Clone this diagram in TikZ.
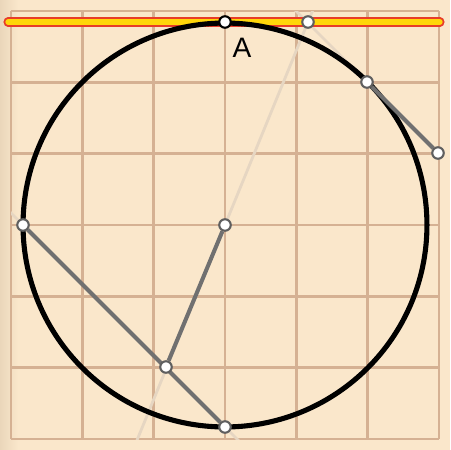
\documentclass[tikz,border=0pt]{standalone}
\usepackage{fontspec}
\setmainfont{Liberation Sans}
\usepackage{tikz}
\usetikzlibrary{calc, positioning}
\usepackage{xcolor}
\definecolor{paper}{RGB}{250,231,203}
\definecolor{paperdark}{RGB}{234,214,186}
\definecolor{gridtan}{RGB}{213,177,147}
\definecolor{faintline}{RGB}{230,214,194}
\definecolor{seggray}{RGB}{112,112,112}
\definecolor{ptgray}{RGB}{95,95,95}
\definecolor{tanyellow}{RGB}{255,214,10}
\definecolor{tanred}{RGB}{232,60,40}
\pgfdeclarelayer{paperlayer}
\pgfdeclarelayer{linelayer}
\pgfsetlayers{paperlayer,linelayer,main}

\begin{document}
\begin{tikzpicture}[
    x=0.02cm, y=-0.02cm,
    pt/.style={circle, draw=ptgray, line width=1.2pt, fill=white,
               minimum size=0.23cm, inner sep=0pt},
    ptA/.style={pt, draw=black},
    seg/.style={seggray, line width=2.3pt},
    faint/.style={faintline, line width=1.6pt},
    circ/.style={black, line width=2.9pt},
    lbl/.style={font=\fontsize{16}{18}\selectfont, inner sep=0pt},
]
    \useasboundingbox (0,0) rectangle (450,450);

    % points
    \node[ptA] (A) at (225,22) {};
    \node[pt] (B) at (308,22) {};
    \node[pt] (C) at (367,82) {};
    \node[pt] (D) at (438,153) {};
    \node[pt] (O) at (225,225) {};
    \node[pt] (E) at (23,225) {};
    \node[pt] (F) at (225,427) {};
    \node[pt] (G) at (166,367) {};
    \node[lbl] (labA) at ($(A)+(17,26)$) {A};

    \coordinate (tanL) at (8,22);
    \coordinate (tanR) at (440,22);

    \begin{pgfonlayer}{paperlayer}
        \fill[paper] (0,0) rectangle (450,450);
        \shade[left color=paperdark, right color=paper] (0,0) rectangle (18,450);
        \foreach \k in {0,...,6} {
            \draw[gridtan, line width=1.6pt] (11+71.333*\k,11) -- (11+71.333*\k,439);
            \draw[gridtan, line width=1.6pt] (11,11+71.333*\k) -- (439,11+71.333*\k);
        }
    \end{pgfonlayer}

    \begin{pgfonlayer}{linelayer}
        \begin{scope}
            \clip (11,11) rectangle (439,439);
            \draw[faint] ($(E)!-2!(F)$) -- ($(E)!3!(F)$);
            \draw[faint] ($(C)!-3!(D)$) -- ($(C)!3!(D)$);
            \draw[faint] ($(B)!-2!(O)$) -- ($(B)!3!(O)$);
        \end{scope}
        % tangent line
        \draw[tanred, line width=5.2pt, line cap=round] (tanL) -- (tanR);
        \draw[tanyellow, line width=3pt, line cap=round] (tanL) -- (tanR);
        \draw[circ] (O) circle[radius=4.04cm];
        \draw[seg] (C) -- (D);
        \draw[seg] (E) -- (F);
        \draw[seg] (O) -- (G);
    \end{pgfonlayer}
\end{tikzpicture}
\end{document}
